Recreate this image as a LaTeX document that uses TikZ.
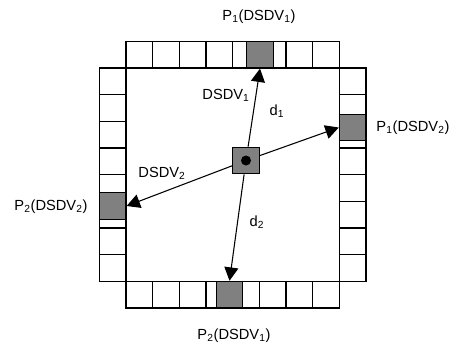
\documentclass[tikz,border=0pt]{standalone}
\usepackage{fontspec}
\setmainfont{Liberation Sans}
\usetikzlibrary{arrows.meta}
\definecolor{slotGray}{HTML}{808080}
\tikzset{
  slot/.style    = {draw=black, line width=0.9pt},
  hitslot/.style = {draw=black, line width=0.9pt, fill=slotGray,
                    minimum size=20pt, inner sep=0pt},
  srcdot/.style  = {circle, fill=black, minimum size=7.5pt, inner sep=0pt},
  ray/.style     = {-{Triangle[length=10pt, width=10.5pt]}, line width=0.8pt},
  lbl/.style     = {font=\fontsize{11}{13}\selectfont, inner sep=1pt},
}

\begin{document}
\begin{tikzpicture}[x=0.75pt, y=-0.75pt]
  \useasboundingbox (0,0) rectangle (457,347);

  % eight slots on each side of the square
  \foreach \i in {0,...,7} {
    \draw[slot] ({126+\i*26.667},41.333) rectangle ++(26.667,26.667);
    \draw[slot] ({126+\i*26.667},281.333) rectangle ++(26.667,26.667);
    \draw[slot] (99.333,{68+\i*26.667}) rectangle ++(26.667,26.667);
    \draw[slot] (339.333,{68+\i*26.667}) rectangle ++(26.667,26.667);
  }

  \node[hitslot] (p1d1) at (260,54.667) {};
  \node[hitslot] (p1d2) at (352.667,127.5) {};
  \node[hitslot] (p2d1) at (229.5,294.667) {};
  \node[hitslot] (p2d2) at (112.667,206) {};

  \node[hitslot] (src) at (246,160.5) {};
  \node[srcdot] (srcdot) at (src.center) {};

  \draw[ray] (src) -- (p1d1.south);
  \draw[ray] (src) -- (p1d2.west);
  \draw[ray] (src) -- (p2d1.north);
  \draw[ray] (src) -- (p2d2.east);

  \node[lbl] (dsdv1) at (226,95) {DSDV\textsubscript{1}};
  \node[lbl] (dist1) at (277,111) {d\textsubscript{1}};
  \node[lbl] (dsdv2) at (162,173) {DSDV\textsubscript{2}};
  \node[lbl] (dist2) at (257,222) {d\textsubscript{2}};

  \node[lbl] (l11) at (259,17) {P\textsubscript{1}(DSDV\textsubscript{1})};
  \node[lbl] (l12) at (413,128) {P\textsubscript{1}(DSDV\textsubscript{2})};
  \node[lbl] (l22) at (51,207) {P\textsubscript{2}(DSDV\textsubscript{2})};
  \node[lbl] (l21) at (234,336) {P\textsubscript{2}(DSDV\textsubscript{1})};
\end{tikzpicture}
\end{document}
